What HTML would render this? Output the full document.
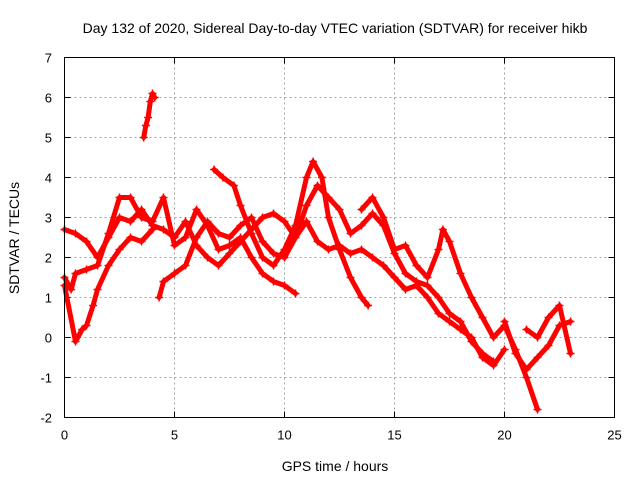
<!DOCTYPE html>
<html><head><meta charset="utf-8"><style>
body{margin:0;background:#fff;}
svg{display:block;font-family:"Liberation Sans",sans-serif;}
</style></head><body>
<svg id="chart" width="640" height="480">
<text x="335" y="33" font-size="14" text-anchor="middle">Day 132 of 2020, Sidereal Day-to-day VTEC variation (SDTVAR) for receiver hikb</text>
<text x="335" y="471" font-size="14" text-anchor="middle">GPS time / hours</text>
<text transform="translate(19,238) rotate(-90)" font-size="14" text-anchor="middle">SDTVAR / TECUs</text>
<g id="grid"></g><g id="series"></g>
<rect x="64.5" y="57.5" width="550" height="360" fill="none" stroke="#000"/>
</svg>
<script>
const xTicks=[0,5,10,15,20,25];
const yTicks=[-2,-1,0,1,2,3,4,5,6,7];
const t1x=[0,0.5,1,1.5,2,2.5,3,3.5,4,4.5,5,5.5,6,6.5,7,7.5,8,8.5,9,9.5,10,10.5,11,11.5,12,12.5,13,13.5,14,14.5,15,15.5,16,16.5,17,17.5,18,18.5,19,19.5,20];
const t1y=[2.7,2.6,2.4,2.0,2.5,3.0,2.9,3.2,2.8,2.7,2.5,2.9,2.3,2.0,1.8,2.1,2.4,2.7,3.0,3.1,2.9,2.5,2.9,2.4,2.2,2.3,2.1,2.2,2.0,1.8,1.5,1.2,1.3,1.0,0.6,0.4,0.2,0,-0.5,-0.7,-0.3];
const t2x=[0,0.3,0.5,1,1.5,2,2.5,3,3.5,4,4.5,5,5.5,6,6.5,7,7.5,8,8.5,9,9.5,10,10.5];
const t2y=[1.5,1.2,1.6,1.7,1.8,2.6,3.5,3.5,3.0,2.9,3.5,2.3,2.5,3.2,2.8,2.2,2.3,2.5,2.0,1.6,1.4,1.3,1.1];
const t3x=[0,0.5,0.8,1,1.3,1.5,2,2.5,3,3.5,4];
const t3y=[1.3,-0.1,0.2,0.3,0.8,1.2,1.8,2.2,2.5,2.4,2.7];
const t4x=[3.6,3.7,3.8,3.9,4,4.1];
const t4y=[5.0,5.3,5.5,5.9,6.1,6.0];
const t5x=[4.3,4.5,5,5.5,6,6.5,7,7.5,8,8.5,9,9.5,10,10.5,11,11.5,12,12.5,13,13.5,14,14.5,15,15.5,16,16.5,17,17.5,18,18.5,19,19.5];
const t5y=[1.0,1.4,1.6,1.8,2.5,2.9,2.6,2.5,2.8,3.0,2.4,2.1,2.0,2.5,3.3,3.8,3.5,3.2,2.6,2.8,3.1,2.8,2.1,1.6,1.4,1.3,1.0,0.6,0.4,-0.1,-0.4,-0.6];
const t6x=[6.8,7.2,7.7,8,8.5,9,9.5,10,10.5,11,11.3,11.7,12,12.5,13,13.5,13.8];
const t6y=[4.2,4.0,3.8,3.3,2.6,2.0,1.8,2.2,2.8,4.0,4.4,4.0,3.0,2.2,1.5,1.0,0.8];
const t7x=[13.5,14,14.5,15,15.5,16,16.5,17,17.2,17.5,18,18.5,19,19.5,20,20.5,21,21.5];
const t7y=[3.2,3.5,3.0,2.2,2.3,1.8,1.5,2.2,2.7,2.4,1.6,1.0,0.5,0,0.3,-0.3,-1.0,-1.8];
const t8x=[20,20.5,21,21.5,22,22.5,23];
const t8y=[0.4,-0.4,-0.8,-0.5,-0.2,0.3,0.4];
const t9x=[21,21.5,22,22.5,23];
const t9y=[0.2,0,0.5,0.8,-0.4];
const seriesX=[t1x,t2x,t3x,t4x,t5x,t6x,t7x,t8x,t9x];
const seriesY=[t1y,t2y,t3y,t4y,t5y,t6y,t7y,t8y,t9y];
const X0=64.5,X1=614.5,Y0=417.5,Y1=57.5;
function sx(v){return X0+(v-0)/(25-0)*(X1-X0);}
function sy(v){return Y0-(v+2)/(7+2)*(Y0-Y1);}
const NS="http://www.w3.org/2000/svg";
const grid=document.getElementById('grid');
function mk(tag,attrs,parent){const e=document.createElementNS(NS,tag);for(const k in attrs)e.setAttribute(k,attrs[k]);parent.appendChild(e);return e;}
xTicks.forEach(v=>{
 const x=sx(v);
 if(v>0&&v<25){const l=mk('line',{x1:x,x2:x,y1:Y1,y2:Y0,stroke:'#a0a0a0','stroke-dasharray':'2,3'},grid);
 
 }
 const tk=mk('path',{d:`M${x},${Y0}v-6M${x},${Y1}v6`,stroke:'#000'},grid);
 
 
 const t=mk('text',{x:x,y:Y0+22,'font-size':13,'text-anchor':'middle'},grid);t.textContent=v;
 
 
});
yTicks.forEach(v=>{
 const y=sy(v);
 if(v>-2&&v<7){const l=mk('line',{x1:X0,x2:X1,y1:y,y2:y,stroke:'#a0a0a0','stroke-dasharray':'2,3'},grid);
 
 }
 const tk=mk('path',{d:`M${X0},${y}h6M${X1},${y}h-6`,stroke:'#000'},grid);
 
 
 const t=mk('text',{x:52,y:y+5,'font-size':13,'text-anchor':'end'},grid);t.textContent=v;
 
 
});
const sg=document.getElementById('series');
seriesX.forEach((xs,i)=>{
 const ys=seriesY[i];
 const g=mk('g',{},sg);
 
 
 const pts=xs.map((x,j)=>sx(x)+','+sy(ys[j])).join(' ');
 const pl=mk('polyline',{points:pts,fill:'none',stroke:'#f00','stroke-width':5,'stroke-linejoin':'round','stroke-linecap':'round'},g);
 
 
 xs.forEach((x,j)=>{
  const px=sx(x),py=sy(ys[j]);
  const m=mk('path',{d:`M${px-4},${py}h8M${px},${py-4}v8`,stroke:'#f00','stroke-width':1.5},g);
  
  
 });
});
</script>
</body></html>
